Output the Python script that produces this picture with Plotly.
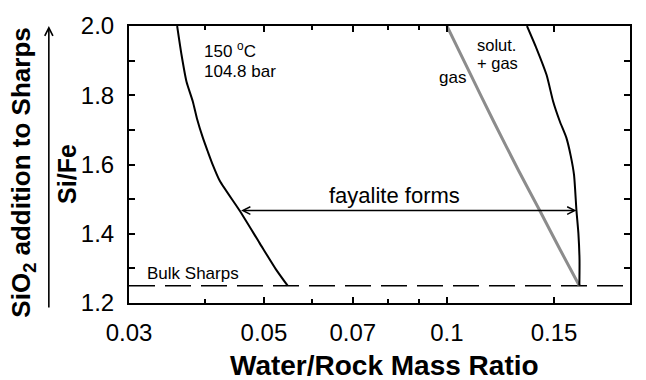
import math
import plotly.graph_objects as go

# ---- data ----
left_x = [0.0360, 0.0366, 0.0373, 0.0382, 0.0388, 0.0397, 0.0404, 0.0412, 0.0423, 0.0456, 0.0492, 0.0523, 0.0547]
left_y = [2.0, 1.917, 1.839, 1.782, 1.733, 1.676, 1.639, 1.599, 1.553, 1.467, 1.373, 1.298, 1.25]

gas_x = [0.100, 0.1088, 0.1193, 0.1312, 0.1421, 0.1536, 0.1651]
gas_y = [2.0, 1.868, 1.725, 1.582, 1.467, 1.353, 1.25]

right_x = [0.1354, 0.1404, 0.1458, 0.1495, 0.1533, 0.1572, 0.1598, 0.1618, 0.1633, 0.1645, 0.1652, 0.1651]
right_y = [2.0, 1.935, 1.859, 1.782, 1.725, 1.677, 1.625, 1.570, 1.467, 1.401, 1.324, 1.25]

bulk_sharps_y = 1.25
x_range = [0.03, 0.2]
y_range = [1.2, 2.0]

fayalite_y = 1.467
fayalite_x_start = 0.0456
fayalite_x_end = 0.1633

x_tickvals = [0.03, 0.05, 0.07, 0.1, 0.15, 0.2]
x_ticktext = ["0.03", "0.05", "0.07", "0.1", "0.15", "0.2"]
x_minor_vals = [0.04, 0.06, 0.08, 0.09]
y_tickvals = [1.2, 1.4, 1.6, 1.8, 2.0]
y_ticktext = ["1.2", "1.4", "1.6", "1.8", "2.0"]

FONT = "Arial, Liberation Sans, Helvetica, sans-serif"
lg = math.log10

fig = go.Figure()

fig.add_trace(go.Scatter(x=x_range, y=[bulk_sharps_y, bulk_sharps_y], mode="lines",
                         line=dict(color="black", width=1.6, dash="26px,10px"),
                         showlegend=False, hoverinfo="skip"))
fig.add_trace(go.Scatter(x=left_x, y=left_y, mode="lines",
                         line=dict(color="black", width=2, shape="spline", smoothing=0.6),
                         showlegend=False))
fig.add_trace(go.Scatter(x=gas_x, y=gas_y, mode="lines",
                         line=dict(color="#8c8c8c", width=3, shape="spline", smoothing=0.6),
                         showlegend=False))
fig.add_trace(go.Scatter(x=right_x, y=right_y, mode="lines",
                         line=dict(color="black", width=2, shape="spline", smoothing=0.6),
                         showlegend=False))

ann = []
# double-headed fayalite arrow
ann.append(dict(x=lg(fayalite_x_end), y=fayalite_y, ax=lg(fayalite_x_start), ay=fayalite_y,
                xref="x", yref="y", axref="x", ayref="y", text="", showarrow=True,
                arrowhead=5, startarrowhead=5, arrowside="end+start",
                arrowsize=1.0, startarrowsize=1.0, arrowwidth=1.5, arrowcolor="black",
                standoff=0, startstandoff=0))
ann.append(dict(x=lg(0.0820), y=1.510, xref="x", yref="y", text="fayalite forms",
                showarrow=False, xanchor="center", yanchor="middle",
                font=dict(size=22, color="black", family=FONT)))
ann.append(dict(x=-1.4028, y=1.930, xref="x", yref="y", text="150 <sup>o</sup>C",
                showarrow=False, xanchor="left", yanchor="middle",
                font=dict(size=17, color="black", family=FONT)))
ann.append(dict(x=-1.4028, y=1.870, xref="x", yref="y", text="104.8 bar",
                showarrow=False, xanchor="left", yanchor="middle",
                font=dict(size=17, color="black", family=FONT)))
ann.append(dict(x=-0.9543, y=1.946, xref="x", yref="y", text="solut.",
                showarrow=False, xanchor="left", yanchor="middle",
                font=dict(size=16.5, color="black", family=FONT)))
ann.append(dict(x=-0.9543, y=1.893, xref="x", yref="y", text="+ gas",
                showarrow=False, xanchor="left", yanchor="middle",
                font=dict(size=16.5, color="black", family=FONT)))
ann.append(dict(x=-1.0163, y=1.8518, xref="x", yref="y", text="gas",
                showarrow=False, xanchor="left", yanchor="middle",
                font=dict(size=17, color="black", family=FONT)))
ann.append(dict(x=-1.497, y=1.2848, xref="x", yref="y", text="Bulk Sharps",
                showarrow=False, xanchor="left", yanchor="middle",
                font=dict(size=17, color="black", family=FONT)))
# axis titles
ann.append(dict(x=0.509, y=-0.226, xref="paper", yref="paper",
                text="<b>Water/Rock Mass Ratio</b>", showarrow=False,
                xanchor="center", yanchor="middle",
                font=dict(size=28, color="black", family=FONT)))
ann.append(dict(x=-0.1228, y=0.4677, xref="paper", yref="paper",
                text="<b>Si/Fe</b>", showarrow=False, textangle=-90,
                xanchor="center", yanchor="middle",
                font=dict(size=25, color="black", family=FONT)))
ann.append(dict(x=-0.2116, y=0.4706, xref="paper", yref="paper",
                text="<b>SiO<sub>2</sub> addition to Sharps</b>", showarrow=False, textangle=-90,
                xanchor="center", yanchor="middle",
                font=dict(size=26, color="black", family=FONT)))
# vertical arrow at far left
ann.append(dict(x=-0.160, y=1.0, xref="paper", yref="paper", ax=0, ay=283,
                axref="pixel", ayref="pixel", text="", showarrow=True,
                arrowhead=5, arrowsize=1.0, arrowwidth=1.6, arrowcolor="black", standoff=0))

fig.update_layout(
    width=646, height=380,
    margin=dict(l=129, r=16, t=24, b=77),
    paper_bgcolor="white", plot_bgcolor="white",
    font=dict(family=FONT, color="black"),
    showlegend=False,
    annotations=ann,
    xaxis=dict(type="log", range=[lg(x_range[0]), lg(x_range[1])],
               tickmode="array", tickvals=x_tickvals, ticktext=x_ticktext,
               ticks="inside", ticklen=6, tickwidth=1.5, tickcolor="black",
               minor=dict(tickmode="array", tickvals=x_minor_vals, ticks="inside",
                          ticklen=4, tickwidth=1.5, tickcolor="black", showgrid=False),
               showline=True, linecolor="black", linewidth=2, mirror="ticks",
               showgrid=False, zeroline=False,
               tickfont=dict(size=24, family=FONT, color="black"), ticklabelstandoff=7),
    yaxis=dict(range=y_range, tickmode="array", tickvals=y_tickvals, ticktext=y_ticktext,
               ticks="inside", ticklen=6, tickwidth=1.5, tickcolor="black",
               minor=dict(tickmode="linear", dtick=0.1, tick0=1.2, ticks="inside",
                          ticklen=6, tickwidth=1.5, tickcolor="black", showgrid=False),
               showline=True, linecolor="black", linewidth=2, mirror="ticks",
               showgrid=False, zeroline=False,
               tickfont=dict(size=24, family=FONT, color="black"), ticklabelstandoff=8),
)

fig.write_html("out.html")
